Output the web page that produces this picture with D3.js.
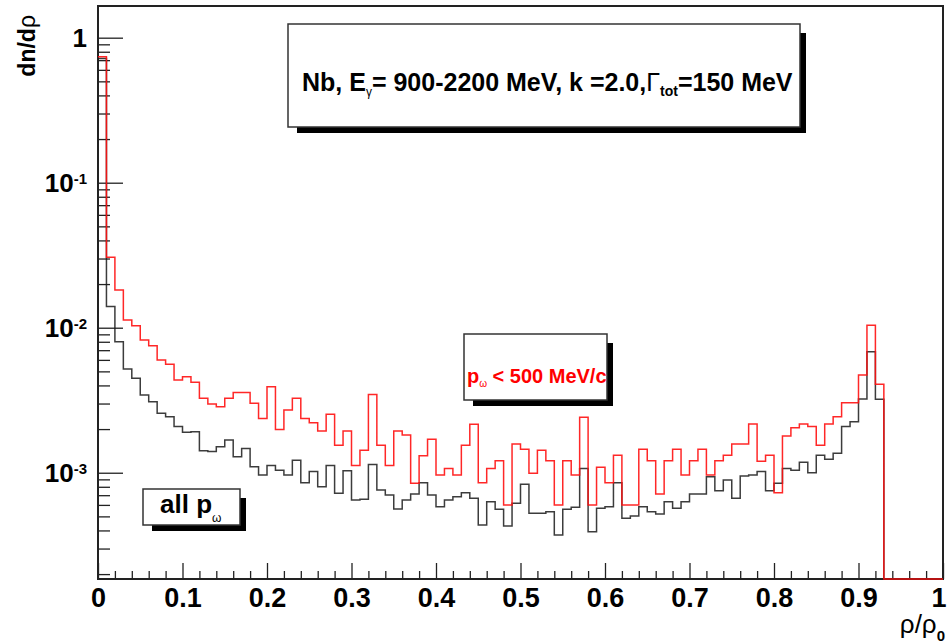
<!DOCTYPE html>
<html><head><meta charset="utf-8">
<script src="https://cdn.jsdelivr.net/npm/d3@7"></script>
<style>
html,body{margin:0;padding:0;background:#fff;}
svg{display:block;font-family:"Liberation Sans",Arial,Helvetica,sans-serif;}
</style></head><body>
<svg id="c" width="947" height="644"></svg>
<script>
// ---- data ----
const xRange = [0, 1];
const nBins = 100;
// dn/drho, all p_omega (black)
const allP = [
0.72, 0.0140, 0.00801, 0.00519, 0.00448, 0.00343, 0.00309, 0.00257, 0.00243, 0.00208,
0.00190, 0.00192, 0.00142, 0.00140, 0.00151, 0.00168, 0.00129, 0.00147, 0.00110, 0.000964,
0.00112, 0.00104, 0.000964, 0.00122, 0.000853, 0.00102, 0.000800, 0.00112, 0.000721, 0.00103,
0.000648, 0.000656, 0.00114, 0.000760, 0.000702, 0.000562, 0.000648, 0.000713, 0.000853, 0.000702,
0.000583, 0.000648, 0.000683, 0.000728, 0.000666, 0.000436, 0.000631, 0.000560, 0.000429, 0.000615,
0.000832, 0.000525, 0.000525, 0.000538, 0.000372, 0.000560, 0.000577, 0.00107, 0.000392, 0.000568,
0.000583, 0.000853, 0.000485, 0.000503, 0.000583, 0.000538, 0.000519, 0.000631, 0.000568, 0.000631,
0.000713, 0.000713, 0.000938, 0.000751, 0.000891, 0.000666, 0.000949, 0.000964, 0.00102, 0.000751,
0.000845, 0.00107, 0.00104, 0.00118, 0.00100, 0.00132, 0.00124, 0.00136, 0.00208, 0.00225,
0.00322, 0.00683, 0.00321, 0, 0, 0, 0, 0, 0, 0];
// dn/drho, p_omega < 500 MeV/c (red)
const lowP = [
0.740, 0.0306, 0.0182, 0.0113, 0.0103, 0.00822, 0.00751, 0.00598, 0.00559, 0.00436,
0.00459, 0.00420, 0.00326, 0.00298, 0.00285, 0.00326, 0.00358, 0.00358, 0.00301, 0.00237,
0.00392, 0.00199, 0.00271, 0.00326, 0.00237, 0.00221, 0.00194, 0.00253, 0.00155, 0.00194,
0.00112, 0.00143, 0.00347, 0.00155, 0.00112, 0.00194, 0.00182, 0.000845, 0.00131, 0.00170,
0.000964, 0.00107, 0.000964, 0.00155, 0.00216, 0.000853, 0.00107, 0.00121, 0.000599, 0.00158,
0.00145, 0.000991, 0.00143, 0.00121, 0.000599, 0.00121, 0.000964, 0.00241, 0.000599, 0.00109,
0.000853, 0.00132, 0.000599, 0.000599, 0.00145, 0.00121, 0.000713, 0.00121, 0.00145, 0.000964,
0.00121, 0.00145, 0.000964, 0.00121, 0.00132, 0.00158, 0.00158, 0.00217, 0.00120, 0.00132,
0.000728, 0.00179, 0.00204, 0.00217, 0.00208, 0.00155, 0.00217, 0.00243, 0.00304, 0.00304,
0.00472, 0.0104, 0.00407, 0, 0, 0, 0, 0, 0, 0];
const xTickValues = [0, 0.1, 0.2, 0.3, 0.4, 0.5, 0.6, 0.7, 0.8, 0.9, 1];
const xTickLabels = ["0", "0.1", "0.2", "0.3", "0.4", "0.5", "0.6", "0.7", "0.8", "0.9", "1"];
const yMajorTicks = [1e-3, 1e-2, 1e-1, 1];
const yTickBase = ["10", "10", "10", "1"];
const yTickExp = ["-3", "-2", "-1", ""];
const yDomain = [1.85e-4, 1.654];

// ---- layout ----
const L = 98, R = 943, T = 6, B = 579;
const svg = d3.select("#c");
const x = d3.scaleLinear().domain(xRange).range([L, R]);
const y = d3.scaleLog().domain(yDomain).range([B, T]);
const font = '"Liberation Sans",Arial,Helvetica,sans-serif';

svg.append("clipPath").attr("id", "clip").append("rect")
  .attr("x", L - 2).attr("y", T).attr("width", R - L + 4).attr("height", B - T + 2);

// axes ticks
const yMinor = [];
for (let k = -4; k <= 0; k++) for (let m = 2; m <= 9; m++) {
  const v = m * Math.pow(10, k);
  if (v >= yDomain[0] && v <= yDomain[1]) yMinor.push(v);
}
const axStyle = g => { g.select(".domain").remove(); g.selectAll("line").attr("stroke", "#222").attr("stroke-width", 1.3); };
svg.append("g").attr("transform", `translate(${L},0)`)
  .call(d3.axisLeft(y).tickValues(yMinor).tickSize(-12).tickFormat(() => "")).call(axStyle);
svg.append("g").attr("transform", `translate(${L},0)`)
  .call(d3.axisLeft(y).tickValues(yMajorTicks).tickSize(-25).tickFormat(() => "")).call(axStyle);

const xMinor = d3.range(0, 51).map(i => i * 0.02).filter(v => Math.abs(v * 10 - Math.round(v * 10)) > 1e-6);
svg.append("g").attr("transform", `translate(0,${B})`)
  .call(d3.axisBottom(x).tickValues(xMinor).tickSize(-8).tickFormat(() => "")).call(axStyle);
const xAx = svg.append("g").attr("transform", `translate(0,${B})`)
  .call(d3.axisBottom(x).tickValues(xTickValues).tickSize(-16).tickPadding(9)
    .tickFormat((d, i) => xTickLabels[i]));
xAx.call(axStyle);
xAx.selectAll("text").attr("font-size", 27).attr("font-weight", "bold")
  .attr("font-family", font).attr("fill", "#000");
xAx.selectAll(".tick:last-of-type text").attr("text-anchor", "end").attr("x", 3);

// y tick labels
yMajorTicks.forEach((v, i) => {
  const t = svg.append("text").attr("x", 87).attr("y", y(v) + 9)
    .attr("text-anchor", "end").attr("font-size", 26).attr("font-weight", "bold").attr("fill", "#000");
  t.append("tspan").text(yTickBase[i]);
  if (yTickExp[i]) t.append("tspan").attr("font-size", 15).attr("dy", -8).text(yTickExp[i]);
});

// frame
svg.append("rect").attr("x", L).attr("y", T).attr("width", R - L).attr("height", B - T)
  .attr("fill", "none").attr("stroke", "#222").attr("stroke-width", 2);

// histograms (drawn over the frame, red on top)
const binW = (xRange[1] - xRange[0]) / nBins;
function histPath(vals) {
  const pts = [];
  vals.forEach((v, i) => pts.push([xRange[0] + i * binW, Math.max(v, yDomain[0])]));
  pts.push([xRange[1], Math.max(vals[vals.length - 1], yDomain[0])]);
  pts.push([xRange[1], yDomain[0]]);
  return d3.line().x(d => x(d[0])).y(d => y(d[1])).curve(d3.curveStepAfter)(pts);
}
const hg = svg.append("g").attr("clip-path", "url(#clip)");
hg.append("path").attr("d", histPath(allP)).attr("fill", "none")
  .attr("stroke", "#1a1a1a").attr("stroke-width", 1.5).attr("stroke-opacity", 0.85);
hg.append("path").attr("d", histPath(lowP)).attr("fill", "none")
  .attr("stroke", "#ff1010").attr("stroke-width", 1.5).attr("stroke-opacity", 0.9);

// axis titles
const yt = svg.append("text").attr("transform", "translate(35,15) rotate(-90)")
  .attr("text-anchor", "end").attr("font-size", 23).attr("font-weight", "bold").attr("fill", "#000");
yt.append("tspan").text("dn/d");
yt.append("tspan").attr("font-weight", "normal").text("ρ");

const xt = svg.append("text").attr("x", 945).attr("y", 633).attr("text-anchor", "end")
  .attr("font-size", 26).attr("fill", "#000");
xt.append("tspan").text("ρ/ρ");
xt.append("tspan").attr("font-size", 15).attr("dy", 8).attr("font-weight", "bold").text("0");

// pave boxes with shadow
function pave(x0, y0, x1, y1) {
  svg.append("rect").attr("x", x0 + 9).attr("y", y0 + 9).attr("width", x1 - x0 - 3).attr("height", y1 - y0 - 3)
    .attr("fill", "#000");
  svg.append("rect").attr("x", x0).attr("y", y0).attr("width", x1 - x0).attr("height", y1 - y0)
    .attr("fill", "#fff").attr("stroke", "#333").attr("stroke-width", 1.5);
}
pave(288, 24, 800, 127);
pave(464, 334, 607, 400);
pave(143, 489, 240, 525);

// info text
const it = svg.append("text").attr("x", 302).attr("y", 91).attr("font-size", 25)
  .attr("font-weight", "bold").attr("fill", "#000");
it.append("tspan").text("Nb, E");
it.append("tspan").attr("font-size", 12).attr("font-weight", "normal").attr("dy", 5).text("γ");
it.append("tspan").attr("dy", -5).text("= 900-2200 MeV, k =2.0,");
it.append("tspan").attr("font-weight", "normal").text("Γ");
it.append("tspan").attr("font-size", 14).attr("dy", 5).text("tot");
it.append("tspan").attr("dy", -5).text("=150 MeV");

// red label
const rt = svg.append("text").attr("x", 467).attr("y", 383).attr("font-size", 20)
  .attr("font-weight", "bold").attr("fill", "#ff0000");
rt.append("tspan").text("p");
rt.append("tspan").attr("font-size", 10).attr("font-weight", "normal").attr("dy", 4).text("ω");
rt.append("tspan").attr("dy", -4).text(" < 500 MeV/c");

// all p label
const at = svg.append("text").attr("x", 160).attr("y", 513).attr("font-size", 26)
  .attr("font-weight", "bold").attr("fill", "#000");
at.append("tspan").text("all p");
at.append("tspan").attr("font-size", 12).attr("font-weight", "normal").attr("dy", 9).text("ω");
</script>
</body></html>
